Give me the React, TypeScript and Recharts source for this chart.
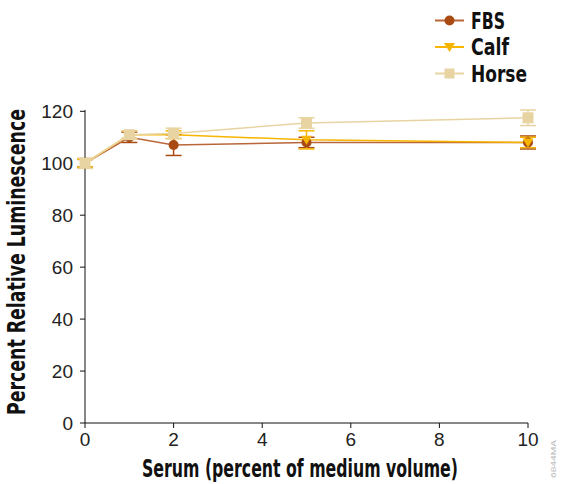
import React from 'react';
import { LineChart, Line, XAxis, YAxis, ErrorBar } from 'recharts';

// Serum (% of medium volume)
const serum = [0, 1, 2, 5, 10];
const fbs = [100, 110, 107, 108, 108];
const fbsErr = [1.5, 2, 4, 2, 2.5];
const calf = [100, 111, 111, 109, 108];
const calfErr = [1.5, 1.5, 1.5, 3.5, 2];
const horse = [100, 111, 111.5, 115.5, 117.5];
const horseErr = [2, 1.5, 2, 2, 3];
const xTicks = [0, 2, 4, 6, 8, 10];
const yTicks = [0, 20, 40, 60, 80, 100, 120];

const FBS_COLOR = '#A84A12';
const FBS_LINE = '#B9673A';
const CALF_COLOR = '#F7B500';
const HORSE_COLOR = '#E8D4A2';

const data = serum.map((s, i) => ({
  serum: s,
  fbs: fbs[i],
  fbsErr: fbsErr[i],
  calf: calf[i],
  calfErr: calfErr[i],
  horse: horse[i],
  horseErr: horseErr[i],
}));

const tickFont = { fontFamily: 'Liberation Sans, Arial, sans-serif', fontSize: 19, fill: '#222' };
const TITLE_FAMILY = '"DejaVu Sans Condensed", "Liberation Sans", Arial, sans-serif';

const CircleDot = (props: any) => {
  const { cx, cy } = props;
  if (cx == null || cy == null) return null;
  return <circle cx={cx} cy={cy} r={5} fill={FBS_COLOR} />;
};

const TriangleDot = (props: any) => {
  const { cx, cy } = props;
  if (cx == null || cy == null) return null;
  return <path d={`M${cx - 5.5},${cy - 4} L${cx + 5.5},${cy - 4} L${cx},${cy + 5} Z`} fill={CALF_COLOR} />;
};

const SquareDot = (props: any) => {
  const { cx, cy } = props;
  if (cx == null || cy == null) return null;
  return <rect x={cx - 5.5} y={cy - 5.5} width={11} height={11} fill={HORSE_COLOR} />;
};

const legendItems = [
  { name: 'FBS', color: FBS_LINE, marker: 'circle', mcolor: FBS_COLOR, w: 34 },
  { name: 'Calf', color: CALF_COLOR, marker: 'triangle', mcolor: CALF_COLOR, w: 38 },
  { name: 'Horse', color: HORSE_COLOR, marker: 'square', mcolor: HORSE_COLOR, w: 56 },
];

// legend drawn as svg so condensed bold text can be fit exactly
const ChartLegend = () => (
  <svg width={130} height={90} style={{ position: 'absolute', left: 430, top: 0 }}>
    {legendItems.map((it, i) => {
      const y = 20.5 + i * 26.5;
      return (
        <g key={it.name}>
          <line x1={5} y1={y} x2={34} y2={y} stroke={it.color} strokeWidth={2} />
          {it.marker === 'circle' && <circle cx={19.5} cy={y} r={5} fill={it.mcolor} />}
          {it.marker === 'triangle' && <path d={`M14,${y - 4} L25,${y - 4} L19.5,${y + 5} Z`} fill={it.mcolor} />}
          {it.marker === 'square' && <rect x={14.5} y={y - 5} width={10} height={10} fill={it.mcolor} />}
          <text
            x={41}
            y={y + 8}
            textLength={it.w}
            lengthAdjust="spacingAndGlyphs"
            style={{ fontFamily: TITLE_FAMILY, fontWeight: 700, fontSize: 23, fill: '#111' }}
          >
            {it.name}
          </text>
        </g>
      );
    })}
  </svg>
);

export default function App() {
  return (
    <div style={{ position: 'fixed', left: 0, top: 0, width: 562, height: 484, background: '#fff', overflow: 'hidden' }}>
      <LineChart
        width={562}
        height={484}
        data={data}
        margin={{ top: 110, right: 34, left: 25, bottom: 0 }}
      >
        <XAxis
          dataKey="serum"
          type="number"
          domain={[0, 10]}
          ticks={xTicks}
          tick={tickFont}
          tickSize={5}
          tickMargin={5}
          stroke="#111"
          height={61}
        />
        <YAxis
          type="number"
          domain={[0, 120]}
          ticks={yTicks}
          tick={tickFont}
          tickSize={5}
          tickMargin={7}
          stroke="#111"
          width={60}
        />
        <Line
          dataKey="fbs"
          name="FBS"
          stroke={FBS_LINE}
          strokeWidth={1.5}
          dot={<CircleDot />}
          activeDot={false}
          isAnimationActive={false}
        >
          <ErrorBar dataKey="fbsErr" width={8} stroke={FBS_COLOR} strokeWidth={1.5} direction="y" />
        </Line>
        <Line
          dataKey="calf"
          name="Calf"
          stroke={CALF_COLOR}
          strokeWidth={1.5}
          dot={<TriangleDot />}
          activeDot={false}
          isAnimationActive={false}
        >
          <ErrorBar dataKey="calfErr" width={8} stroke={CALF_COLOR} strokeWidth={1.5} direction="y" />
        </Line>
        <Line
          dataKey="horse"
          name="Horse"
          stroke={HORSE_COLOR}
          strokeWidth={1.5}
          dot={<SquareDot />}
          activeDot={false}
          isAnimationActive={false}
        >
          <ErrorBar dataKey="horseErr" width={8} stroke={HORSE_COLOR} strokeWidth={1.5} direction="y" />
        </Line>
      </LineChart>
      <svg width={562} height={484} style={{ position: 'absolute', left: 0, top: 0, pointerEvents: 'none' }}>
        <text
          x={300}
          y={477}
          textAnchor="middle"
          textLength={316}
          lengthAdjust="spacingAndGlyphs"
          style={{ fontFamily: TITLE_FAMILY, fontWeight: 700, fontSize: 24, fill: '#111' }}
        >
          Serum (percent of medium volume)
        </text>
        <text
          transform="translate(25,262) rotate(-90)"
          x={0}
          y={0}
          textAnchor="middle"
          textLength={306}
          lengthAdjust="spacingAndGlyphs"
          style={{ fontFamily: TITLE_FAMILY, fontWeight: 700, fontSize: 24, fill: '#111' }}
        >
          Percent Relative Luminescence
        </text>
        <text
          transform="translate(556,478) rotate(-90)"
          x={0}
          y={0}
          textLength={38}
          lengthAdjust="spacingAndGlyphs"
          style={{ fontFamily: 'Liberation Sans, Arial, sans-serif', fontSize: 8, fill: '#bbb' }}
        >
          6844MA
        </text>
      </svg>
      <ChartLegend />
    </div>
  );
}
